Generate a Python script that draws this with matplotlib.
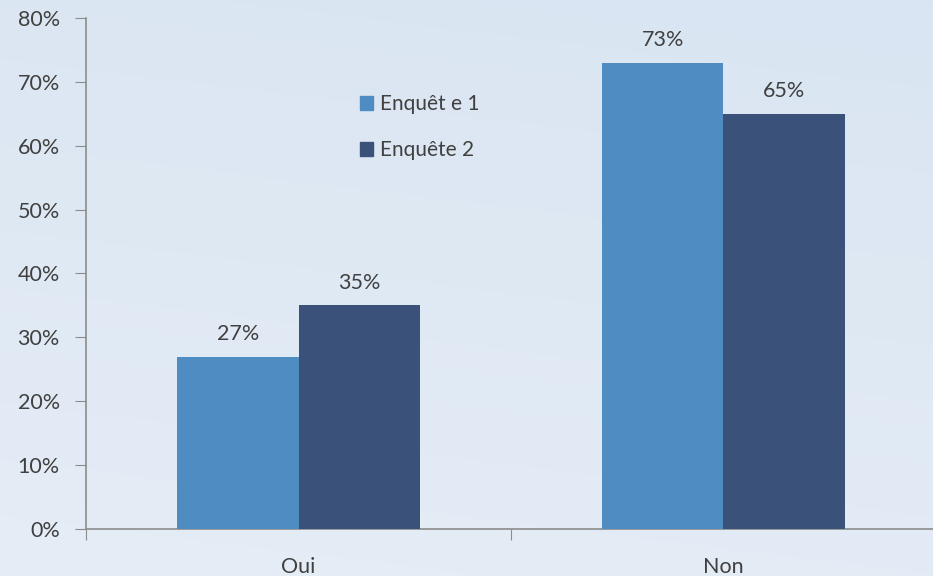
import numpy as np
import matplotlib
matplotlib.use("Agg")
import matplotlib.pyplot as plt
from matplotlib.patches import Patch
from matplotlib.colors import LinearSegmentedColormap

categories = ["Oui", "Non"]
series_names = ["Enquêt e 1", "Enquête 2"]
enquete1 = [27, 73]
enquete2 = [35, 65]
yticks = [0, 10, 20, 30, 40, 50, 60, 70, 80]

c1 = "#4f8cc1"
c2 = "#3a5279"
txt = "#404040"

plt.rcParams['font.family'] = ['Lato', 'DejaVu Sans']

fig = plt.figure(figsize=(9.33, 5.76), dpi=100)
# background gradient
bg = fig.add_axes([0, 0, 1, 1], zorder=-10)
yy, xx = np.mgrid[0:1:200j, 0:1:300j]
grad = 0.6 * yy + 0.4 * (1 - xx) * 0.3
cmap = LinearSegmentedColormap.from_list("bg", ["#d9e5f2", "#e5edf6"])
bg.imshow(grad, cmap=cmap, aspect='auto', extent=[0, 1, 0, 1], origin='upper')
bg.axis('off')

ax = fig.add_axes([0.0922, 0.0816, 0.911, 0.8872])
ax.set_facecolor('none')
x = np.arange(len(categories))
w = 0.285
b1 = ax.bar(x - w / 2, enquete1, w, color=c1, label=series_names[0], zorder=3)
b2 = ax.bar(x + w / 2, enquete2, w, color=c2, label=series_names[1], zorder=3)
for bars, vals in ((b1, enquete1), (b2, enquete2)):
    for r, v in zip(bars, vals):
        ax.text(r.get_x() + r.get_width() / 2, v + 2.0, f"{v}%", ha='center', va='bottom',
                fontsize=15.5, color=txt)

ax.set_xlim(-0.5, 1.5)
ax.set_ylim(0, 80)
ax.set_yticks(yticks)
ax.set_yticklabels([f"{t}%" for t in yticks], fontsize=15.5, color=txt)
ax.set_xticks([-0.5, 0.5, 1.5])
ax.set_xticklabels([])
ax.set_xticks(x, minor=True)
ax.set_xticklabels(categories, minor=True, fontsize=15.5, color=txt)
ax.tick_params(axis='x', which='minor', length=0, pad=20)
ax.tick_params(axis='x', which='major', length=8, color="#8c8c8c", direction='out')
ax.tick_params(axis='y', length=8, color="#8c8c8c", direction='out', pad=11)
for s in ['top', 'right']:
    ax.spines[s].set_visible(False)
for s in ['left', 'bottom']:
    ax.spines[s].set_color("#8c8c8c")
    ax.spines[s].set_linewidth(1.2)

handles = [Patch(color=c1), Patch(color=c2)]
leg = ax.legend(handles, series_names, loc='upper left', bbox_to_anchor=(0.3, 0.888),
                frameon=False, fontsize=15, handlelength=0.65, handleheight=0.65,
                handletextpad=0.3, labelspacing=1.25, labelcolor=txt)

fig.savefig("out.png", dpi=100)
